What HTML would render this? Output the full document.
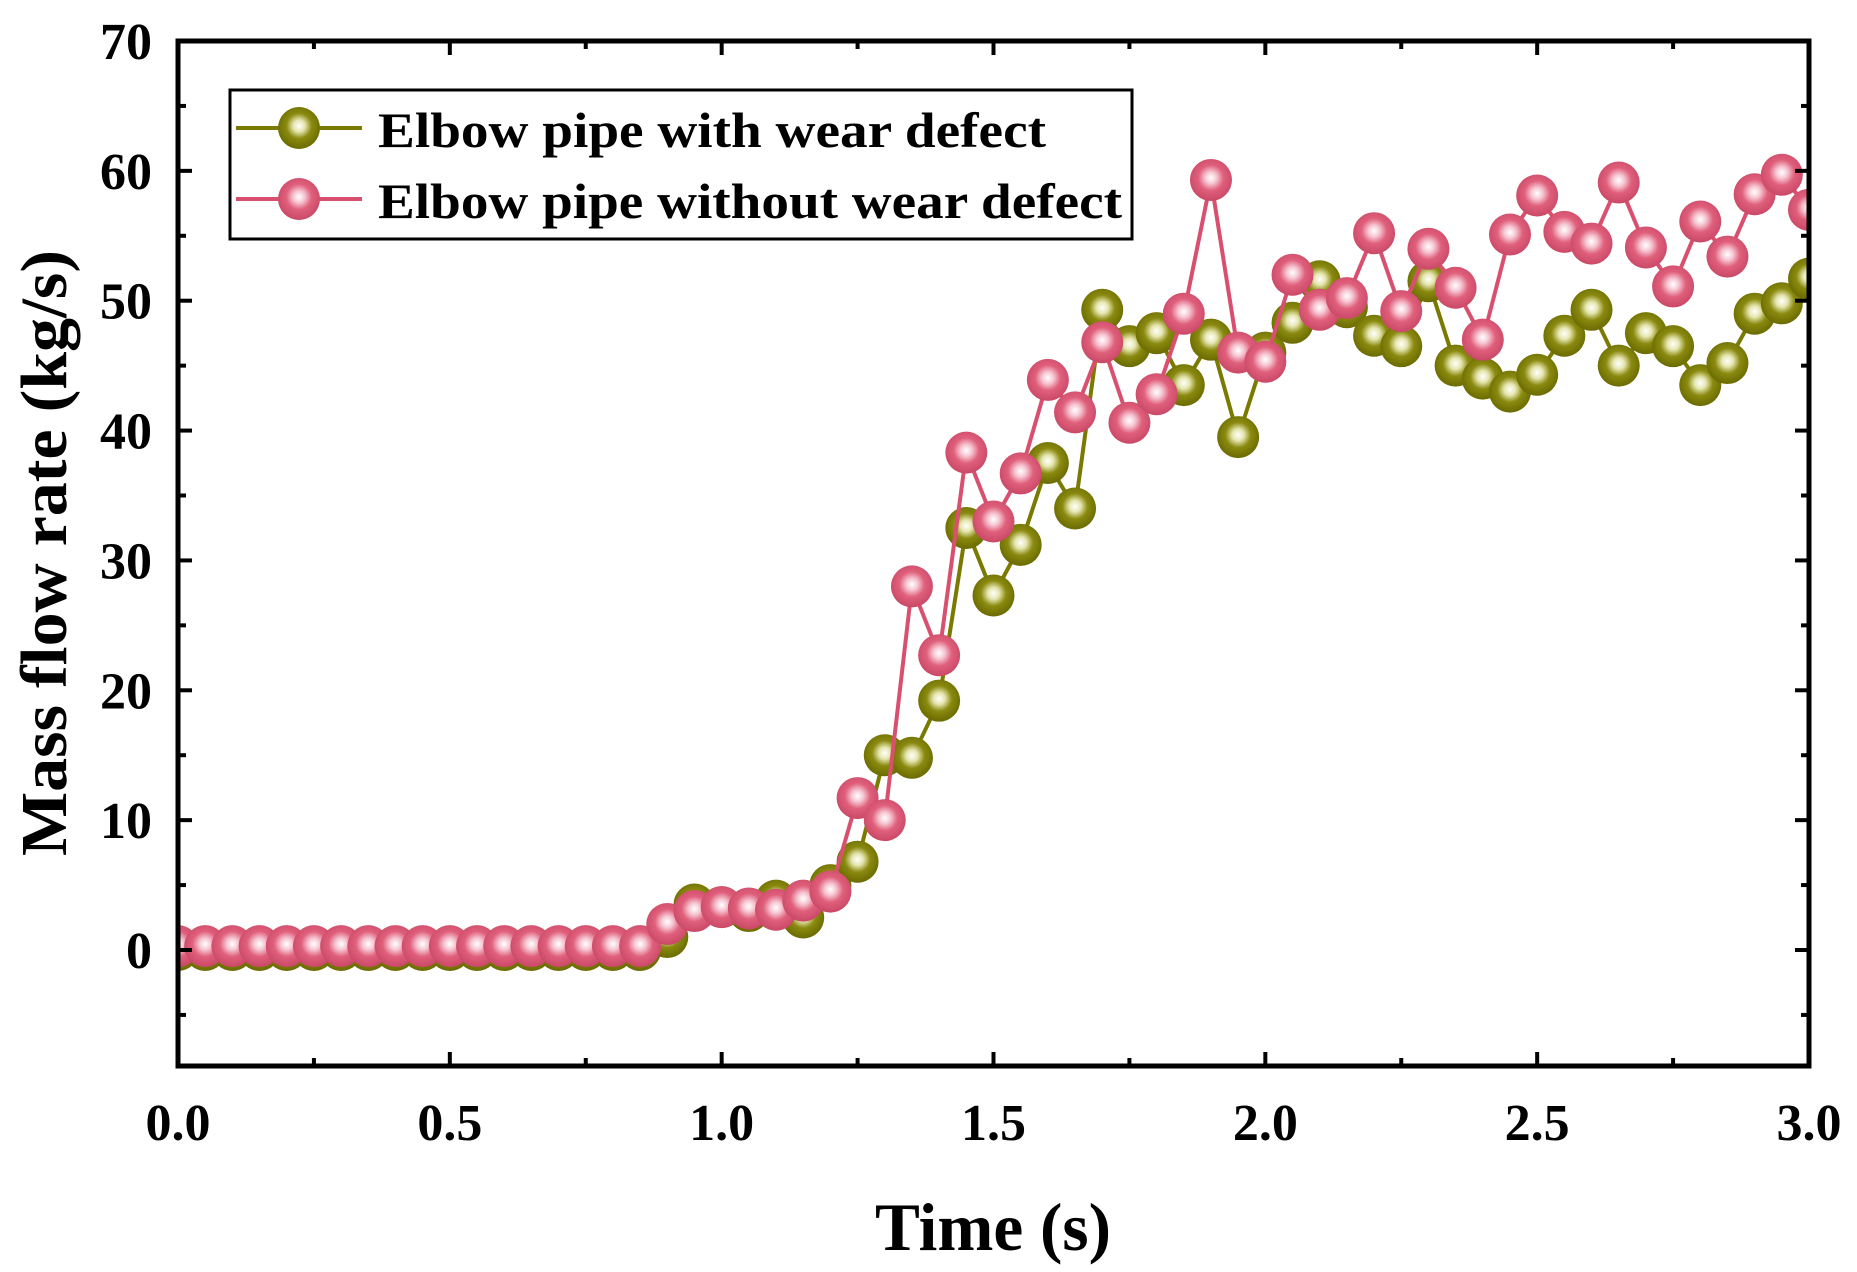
<!DOCTYPE html>
<html><head><meta charset="utf-8"><style>
html,body{margin:0;padding:0;background:#fff;}
svg{display:block;font-family:"Liberation Serif",serif;font-weight:bold;}
</style></head><body>
<svg id="chart" width="1857" height="1272" viewBox="0 0 1857 1272">
<defs>
<radialGradient id="gOlive" cx="0.5" cy="0.45" r="0.55">
<stop offset="0" stop-color="#ffffff"/><stop offset="0.25" stop-color="#e6e6b0"/><stop offset="0.55" stop-color="#8a8a10"/><stop offset="1" stop-color="#6a6a00"/>
</radialGradient>
<radialGradient id="gPink" cx="0.5" cy="0.45" r="0.55">
<stop offset="0" stop-color="#ffffff"/><stop offset="0.25" stop-color="#f6c6d2"/><stop offset="0.55" stop-color="#e0607c"/><stop offset="1" stop-color="#c94866"/>
</radialGradient>
<clipPath id="plotClip"><rect x="178" y="41" width="1631" height="1025"/></clipPath>
</defs>
<g id="grid"></g>
<g id="series" clip-path="url(#plotClip)"></g>
<rect x="178" y="41" width="1631" height="1025" fill="none" stroke="#000" stroke-width="5"/>
<g id="ticks"></g>
<text x="993" y="1250" font-size="68" text-anchor="middle" textLength="236" lengthAdjust="spacingAndGlyphs">Time (s)</text>
<text transform="translate(66,553) rotate(-90)" font-size="66" text-anchor="middle" textLength="606" lengthAdjust="spacingAndGlyphs">Mass flow rate (kg/s)</text>
<g>
<rect x="230" y="90" width="902" height="149" fill="#fff" stroke="#000" stroke-width="3"/>
<g>
<line x1="236" y1="128" x2="362" y2="128" stroke="#7a7a00" stroke-width="4"/>
<circle cx="299" cy="128" r="21" fill="url(#gOlive)"/>
<text x="378" y="147" font-size="50" textLength="668" lengthAdjust="spacingAndGlyphs">Elbow pipe with wear defect</text>
</g>
<g>
<line x1="236" y1="199" x2="362" y2="199" stroke="#d9506f" stroke-width="4"/>
<circle cx="299" cy="199" r="21" fill="url(#gPink)"/>
<text x="378" y="218" font-size="50" textLength="744" lengthAdjust="spacingAndGlyphs">Elbow pipe without wear defect</text>
</g>
</g>
</svg>
<script>
const times = [];
for (let i = 0; i <= 60; i++) times.push(+(i*0.05).toFixed(2));
const withDefect = [0,0,0,0,0,0,0,0,0,0,0,0,0,0,0,0,0,0,1,3.5,3.3,3.0,3.8,2.5,5.0,6.8,15,14.8,19.2,32.5,27.3,31.2,37.5,34,49.3,46.5,47.5,43.5,47,39.5,46,48.3,51.5,49.5,47.3,46.5,51.5,45,44,43,44.3,47.3,49.3,45,47.5,46.5,43.5,45.2,49,49.8,51.7];
const withoutDefect = [0.3,0.3,0.3,0.3,0.3,0.3,0.3,0.3,0.3,0.3,0.3,0.3,0.3,0.3,0.3,0.3,0.3,0.3,2,3,3.3,3.2,3.1,3.8,4.5,11.7,10,28,22.7,38.3,33,36.7,43.9,41.4,46.8,40.6,42.8,49,59.3,46,45.3,52,49.3,50.2,55.2,49.2,54,51,47,55.1,58.1,55.3,54.4,59.1,54.1,51.1,56.1,53.4,58.2,59.7,57];
const xTicks = ["0.0","0.5","1.0","1.5","2.0","2.5","3.0"];
const yTicks = ["0","10","20","30","40","50","60","70"];

const NS = "http://www.w3.org/2000/svg";
const X0=178, X1=1809, Y0=950, Y70=41;
function xs(t){return X0 + t/3*(X1-X0);}
function ys(v){return Y0 - v/70*(Y0-Y70);}
function mk(tag, attrs, parent){const e=document.createElementNS(NS,tag);for(const k in attrs)e.setAttribute(k,attrs[k]);parent.appendChild(e);return e;}

const tg = document.getElementById('ticks');
for (let k=0;k<=12;k++){
  const t=k*0.25, x=xs(t), major=k%2===0, L=major?14:8;
  let l=mk('line',{x1:x,y1:1066,x2:x,y2:1066-L,stroke:'#000','stroke-width':4},tg);
  
  
  let l2=mk('line',{x1:x,y1:41,x2:x,y2:41+L,stroke:'#000','stroke-width':4},tg);
  
  
}
xTicks.forEach(s=>{
  const t=+s;
  const e=mk('text',{x:xs(t),y:1140,'font-size':52,'text-anchor':'middle'},tg);
  e.textContent=s;
  
  
});
for (let k=-1;k<=14;k++){
  const v=k*5, y=ys(v), major=k%2===0, L=major?14:8;
  if (y>1066) continue;
  let l=mk('line',{x1:178,y1:y,x2:178+L,y2:y,stroke:'#000','stroke-width':4},tg);
  
  
  let l2=mk('line',{x1:1809,y1:y,x2:1809-L,y2:y,stroke:'#000','stroke-width':4},tg);
  
  
}
yTicks.forEach(s=>{
  const v=+s;
  const e=mk('text',{x:152,y:ys(v)+18,'font-size':52,'text-anchor':'end'},tg);
  e.textContent=s;
  
  
});

const sg = document.getElementById('series');
function drawSeries(vals, color, grad, name){
  const g=mk('g',{},sg);
  
  
  const pts=vals.map((v,i)=>xs(times[i])+','+ys(v)).join(' ');
  const pl=mk('polyline',{points:pts,fill:'none',stroke:color,'stroke-width':4},g);
  
  
  vals.forEach((v,i)=>{
    const c=mk('circle',{cx:xs(times[i]),cy:ys(v),r:21,fill:'url(#'+grad+')'},g);
    
    
  });
}
drawSeries(withDefect,'#7a7a00','gOlive','series-with-defect');
drawSeries(withoutDefect,'#d9506f','gPink','series-without-defect');
</script>
</body></html>
